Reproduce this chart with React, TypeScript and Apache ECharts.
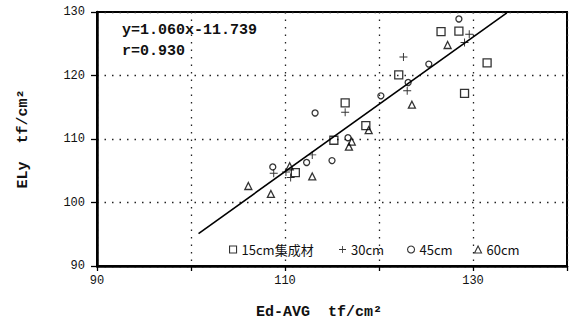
import { useEffect, useRef } from "react";
import * as echarts from "echarts";

// Ed-AVG (x) vs ELy (y), tf/cm², grouped by specimen length
const seriesNames = ["15cm集成材", "30cm", "45cm", "60cm"];

const len15: [number, number][] = [
  [111.1, 104.7], [115.2, 109.8], [116.4, 115.7], [118.6, 112.1], [122.1, 120.1],
  [126.6, 126.9], [128.5, 127.0], [129.1, 117.2], [131.5, 122.0],
];
const len30: [number, number][] = [
  [108.8, 104.6], [110.1, 104.8], [110.6, 103.95], [112.9, 107.5], [116.4, 114.2],
  [122.6, 122.9], [123.0, 117.6], [129.1, 125.2], [129.6, 126.5],
];
const len45: [number, number][] = [
  [108.7, 105.6], [112.3, 106.3], [113.2, 114.1], [115.0, 106.6], [116.7, 110.2],
  [120.2, 116.8], [123.1, 118.9], [125.3, 121.8], [128.5, 128.9],
];
const len60: [number, number][] = [
  [106.1, 102.6], [108.5, 101.35], [110.5, 105.7], [112.9, 104.1], [116.8, 108.8],
  [117.1, 109.6], [118.9, 111.4], [123.5, 115.4], [127.3, 124.8],
];

// regression y = a x + b, drawn over the fitted range
const slope = 1.06;
const intercept = -11.739;
const corr = 0.93;
const fitRange = [100.8, 133.6];

const xMin = 90, xMax = 140, yMin = 90, yMax = 130, step = 10;
const xTickLabels = [90, 110, 130];

const monoFont = "'Liberation Mono', 'DejaVu Sans Mono', monospace";
const plusPath = "path://M4.4,0h1.2v10h-1.2zM0,4.4h10v1.2h-10z";

export default function App() {
  const ref = useRef<HTMLDivElement>(null);

  useEffect(() => {
    if (!ref.current) return;
    const chart = echarts.init(ref.current, undefined, { renderer: "svg" });

    const fitLine = fitRange.map((x) => [x, slope * x + intercept]);
    const eqText = `y=${slope.toFixed(3)}x${intercept < 0 ? "-" : "+"}${Math.abs(intercept).toFixed(3)}`;
    const rText = `r=${corr.toFixed(3)}`;

    const hollow = { color: "rgba(0,0,0,0)", borderColor: "#000", borderWidth: 1.3 };
    const dotted = { color: "#222", width: 1.3, type: [1.5, 6] as number[] };

    const legendBase = {
      top: 243,
      padding: 0,
      itemWidth: 7,
      itemHeight: 7,
      selectedMode: false,
      itemStyle: { borderWidth: 1.1 },
      textStyle: { fontFamily: "'Noto Sans CJK JP', 'Noto Sans', sans-serif", fontSize: 13, color: "#111" },
    };

    chart.setOption({
      animation: false,
      backgroundColor: "#fff",
      grid: {
        left: 97, right: 6, top: 12, bottom: 61,
        show: true, borderColor: "#000", borderWidth: 2,
      },
      legend: [
        { ...legendBase, left: 229, data: [seriesNames[0]] },
        { ...legendBase, left: 339, data: [seriesNames[1]] },
        { ...legendBase, left: 407, data: [seriesNames[2]] },
        { ...legendBase, left: 474, data: [seriesNames[3]] },
      ],
      xAxis: {
        type: "value", min: xMin, max: xMax, interval: step,
        name: "Ed-AVG  tf/cm²", nameLocation: "middle", nameGap: 39,
        nameTextStyle: { fontFamily: monoFont, fontSize: 15, fontWeight: "bold", color: "#111", padding: [0, 26, 0, 0] },
        axisLine: { show: true, lineStyle: { color: "#000", width: 2.5 } },
        axisTick: { show: true, length: 5, lineStyle: { color: "#000", width: 1.3 } },
        axisLabel: {
          margin: 9, showMaxLabel: true,
          formatter: (v: number) => (xTickLabels.includes(v) ? String(v) : ""),
          fontFamily: monoFont, fontSize: 12, color: "#111",
        },
        splitLine: { show: true, lineStyle: dotted },
      },
      yAxis: {
        type: "value", min: yMin, max: yMax, interval: step,
        name: "ELy  tf/cm²", nameLocation: "middle", nameGap: 66,
        nameTextStyle: { fontFamily: monoFont, fontSize: 15, fontWeight: "bold", color: "#111", padding: [0, 0, 0, 0] },
        axisLine: { show: true, lineStyle: { color: "#000", width: 2.5 } },
        axisTick: { show: true, length: 6, lineStyle: { color: "#000", width: 1.3 } },
        axisLabel: { margin: 12, fontFamily: monoFont, fontSize: 12, color: "#111" },
        splitLine: { show: true, lineStyle: dotted },
      },
      graphic: [
        {
          type: "text", left: 122, top: 23,
          style: { text: eqText, fontFamily: monoFont, fontSize: 15, fontWeight: "bold", fill: "#111" },
        },
        {
          type: "text", left: 122, top: 44,
          style: { text: rText, fontFamily: monoFont, fontSize: 15, fontWeight: "bold", fill: "#111" },
        },
      ],
      series: [
        {
          name: seriesNames[0], type: "scatter", data: len15,
          symbol: "rect", symbolSize: 8, itemStyle: hollow,
        },
        {
          name: seriesNames[1], type: "scatter", data: len30,
          symbol: plusPath, symbolSize: 8, itemStyle: { color: "#000" },
        },
        {
          name: seriesNames[2], type: "scatter", data: len45,
          symbol: "circle", symbolSize: 6, itemStyle: hollow,
        },
        {
          name: seriesNames[3], type: "scatter", data: len60,
          symbol: "triangle", symbolSize: 7, itemStyle: hollow,
        },
        {
          name: "fit", type: "line", data: fitLine, symbol: "none",
          lineStyle: { color: "#000", width: 1.6 }, silent: true, z: 1,
        },
      ],
    });

    return () => chart.dispose();
  }, []);

  return (
    <div
      ref={ref}
      style={{ position: "fixed", left: 0, top: 0, width: 573, height: 327, background: "#fff" }}
    />
  );
}
